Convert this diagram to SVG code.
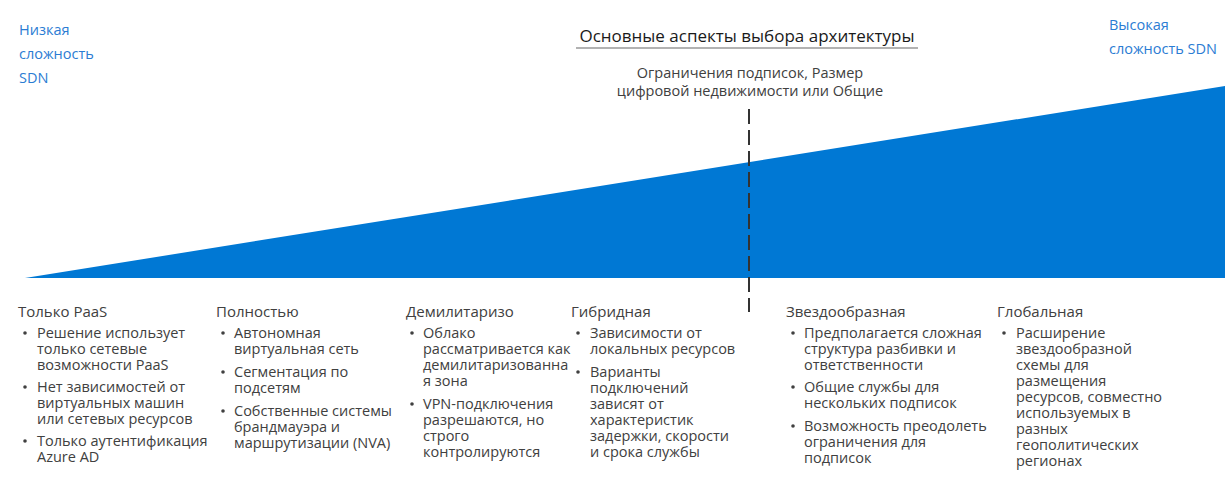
<svg xmlns="http://www.w3.org/2000/svg" width="1225" height="499" viewBox="0 0 1225 499">
<style>
  text { font-family: "Open Sans", "Noto Sans", "DejaVu Sans", sans-serif; }
  .blue { fill: #2b7cd3; font-size: 14.5px; }
  .title { fill: #1a1a1a; font-size: 17px; }
  .sub { fill: #404040; font-size: 14.5px; }
  .hdr { fill: #404040; font-size: 15px; }
  .body { fill: #404040; font-size: 14.5px; }
  .dot { fill: #404040; }
</style>
<defs>
  <circle id="b" r="1.8" class="dot"/>
</defs>
<rect width="1225" height="499" fill="#ffffff"/>
<polygon points="25,278 1225,86 1225,278" fill="#0078d4"/>

<g id="low-label">
  <text class="blue" x="19" y="35">Низкая</text>
  <text class="blue" x="19" y="59">сложность</text>
  <text class="blue" x="19" y="83">SDN</text>
</g>
<g id="high-label">
  <text class="blue" x="1109" y="30">Высокая</text>
  <text class="blue" x="1109" y="54">сложность SDN</text>
</g>
<g id="title">
  <text class="title" x="747" y="42" text-anchor="middle">Основные аспекты выбора архитектуры</text>
  <line x1="576" y1="48" x2="918" y2="48" stroke="#666" stroke-width="1.2"/>
  <text class="sub" x="750" y="78" text-anchor="middle">Ограничения подписок, Размер</text>
  <text class="sub" x="750" y="96" text-anchor="middle">цифровой недвижимости или Общие</text>
</g>
<g id="connectors">
  <line x1="749" y1="109" x2="749" y2="312" stroke="#333" stroke-width="2" stroke-dasharray="15,6"/>
</g>

<g id="col-paas">
  <text class="hdr" x="18" y="317">Только PaaS</text>
  <use href="#b" x="25" y="333"/>
  <text class="body" x="37" y="338">Решение использует</text>
  <text class="body" x="37" y="354">только сетевые</text>
  <text class="body" x="37" y="370">возможности PaaS</text>
  <use href="#b" x="25" y="387"/>
  <text class="body" x="37" y="392">Нет зависимостей от</text>
  <text class="body" x="37" y="408">виртуальных машин</text>
  <text class="body" x="37" y="424">или сетевых ресурсов</text>
  <use href="#b" x="25" y="441"/>
  <text class="body" x="37" y="446">Только аутентификация</text>
  <text class="body" x="37" y="462">Azure AD</text>
</g>
<g id="col-full">
  <text class="hdr" x="216" y="317">Полностью</text>
  <use href="#b" x="223" y="333"/>
  <text class="body" x="234" y="338">Автономная</text>
  <text class="body" x="234" y="354">виртуальная сеть</text>
  <use href="#b" x="223" y="372"/>
  <text class="body" x="234" y="377">Сегментация по</text>
  <text class="body" x="234" y="393">подсетям</text>
  <use href="#b" x="223" y="411"/>
  <text class="body" x="234" y="416">Собственные системы</text>
  <text class="body" x="234" y="432">брандмауэра и</text>
  <text class="body" x="234" y="448">маршрутизации (NVA)</text>
</g>
<g id="col-dmz">
  <text class="hdr" x="406" y="317">Демилитаризо</text>
  <use href="#b" x="412" y="333"/>
  <text class="body" x="423" y="338">Облако</text>
  <text class="body" x="423" y="354">рассматривается как</text>
  <text class="body" x="423" y="370">демилитаризованна</text>
  <text class="body" x="423" y="386">я зона</text>
  <use href="#b" x="412" y="404"/>
  <text class="body" x="423" y="409">VPN-подключения</text>
  <text class="body" x="423" y="425">разрешаются, но</text>
  <text class="body" x="423" y="441">строго</text>
  <text class="body" x="423" y="457">контролируются</text>
</g>
<g id="col-hybrid">
  <text class="hdr" x="571" y="317">Гибридная</text>
  <use href="#b" x="578" y="333"/>
  <text class="body" x="590" y="338">Зависимости от</text>
  <text class="body" x="590" y="354">локальных ресурсов</text>
  <use href="#b" x="578" y="372"/>
  <text class="body" x="590" y="377">Варианты</text>
  <text class="body" x="590" y="393">подключений</text>
  <text class="body" x="590" y="409">зависят от</text>
  <text class="body" x="590" y="425">характеристик</text>
  <text class="body" x="590" y="441">задержки, скорости</text>
  <text class="body" x="590" y="457">и срока службы</text>
</g>
<g id="col-hub">
  <text class="hdr" x="786" y="317">Звездообразная</text>
  <use href="#b" x="793" y="333"/>
  <text class="body" x="804" y="338">Предполагается сложная</text>
  <text class="body" x="804" y="354">структура разбивки и</text>
  <text class="body" x="804" y="370">ответственности</text>
  <use href="#b" x="793" y="387"/>
  <text class="body" x="804" y="392">Общие службы для</text>
  <text class="body" x="804" y="408">нескольких подписок</text>
  <use href="#b" x="793" y="426"/>
  <text class="body" x="804" y="431">Возможность преодолеть</text>
  <text class="body" x="804" y="447">ограничения для</text>
  <text class="body" x="804" y="463">подписок</text>
</g>
<g id="col-global">
  <text class="hdr" x="997" y="317">Глобальная</text>
  <use href="#b" x="1004" y="333"/>
  <text class="body" x="1016" y="338">Расширение</text>
  <text class="body" x="1016" y="354">звездообразной</text>
  <text class="body" x="1016" y="370">схемы для</text>
  <text class="body" x="1016" y="386">размещения</text>
  <text class="body" x="1016" y="402">ресурсов, совместно</text>
  <text class="body" x="1016" y="418">используемых в</text>
  <text class="body" x="1016" y="434">разных</text>
  <text class="body" x="1016" y="450">геополитических</text>
  <text class="body" x="1016" y="466">регионах</text>
</g>
</svg>
